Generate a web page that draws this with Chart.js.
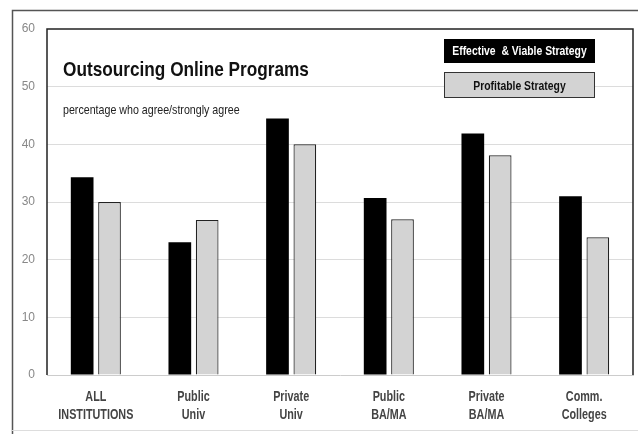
<!DOCTYPE html>
<html>
<head>
<meta charset="utf-8">
<script src="https://cdn.jsdelivr.net/npm/chart.js@4/dist/chart.umd.min.js"></script>
<style>
  html, body { margin: 0; padding: 0; background: #fff; }
  #wrap { width: 638px; height: 436px; position: relative; }
</style>
</head>
<body>
<div id="wrap"><canvas id="myChartOutsourcing" width="638" height="436"></canvas></div>
<script>
//? Données du graphique.

const categories = [
  ["ALL", "INSTITUTIONS"],
  ["Public", "Univ"],
  ["Private", "Univ"],
  ["Public", "BA/MA"],
  ["Private", "BA/MA"],
  ["Comm.", "Colleges"],
];

const valeursEffective = [34.3, 23.0, 44.5, 30.7, 41.9, 31.0];
const valeursProfitable = [30.0, 26.9, 40.0, 27.0, 38.1, 23.9];

const labelEffective = "Effective  & Viable Strategy";
const labelProfitable = "Profitable Strategy";

const titreGraphique = "Outsourcing Online Programs";
const sousTitreGraphique = "percentage who agree/strongly agree";

const ticksAxeY = [0, 10, 20, 30, 40, 50, 60];

const police = "'Liberation Sans', Arial, sans-serif";

//? -------------------------------------------------

//? Texte condensé (pas de police "narrow" dispo, on écrase en largeur).

const texteEtroit = (ctx, texte, x, y, echelle) => {
  ctx.save();
  ctx.translate(x, y);
  ctx.scale(echelle, 1);
  ctx.fillText(texte, 0, 0);
  ctx.restore();
};

//? -------------------------------------------------

//? Cadres, titre, légende et libellés dessinés à la main.

const cadrePlugin = {
  id: "cadre",
  beforeDraw(chart) {
    const { ctx } = chart;
    ctx.save();
    ctx.fillStyle = "#fff";
    ctx.fillRect(0, 0, chart.width, chart.height);

    // cadre extérieur
    ctx.strokeStyle = "#555";
    ctx.lineWidth = 1.5;
    ctx.beginPath();
    ctx.moveTo(12.5, 434);
    ctx.lineTo(12.5, 10.5);
    ctx.lineTo(638, 10.5);
    ctx.stroke();

    ctx.strokeStyle = "#ddd";
    ctx.lineWidth = 1;
    ctx.beginPath();
    ctx.moveTo(12, 430.5);
    ctx.lineTo(638, 430.5);
    ctx.stroke();
    ctx.restore();
  },
  afterDatasetsDraw(chart) {
    const { ctx, chartArea, scales } = chart;
    ctx.save();

    // cadre intérieur (gauche, haut, droite)
    ctx.strokeStyle = "#222";
    ctx.lineWidth = 1.5;
    ctx.beginPath();
    ctx.moveTo(chartArea.left, chartArea.bottom);
    ctx.lineTo(chartArea.left, chartArea.top);
    ctx.lineTo(chartArea.right, chartArea.top);
    ctx.lineTo(chartArea.right, chartArea.bottom);
    ctx.stroke();

    // titre + sous-titre
    ctx.fillStyle = "#111";
    ctx.textBaseline = "alphabetic";
    ctx.textAlign = "left";
    ctx.font = "bold 21px " + police;
    texteEtroit(ctx, titreGraphique, 63, 76, 0.82);
    ctx.font = "13px " + police;
    ctx.fillStyle = "#222";
    texteEtroit(ctx, sousTitreGraphique, 63, 114, 0.82);

    // légende
    const ds = chart.data.datasets;
    const lx = 444, lw = 151;
    ctx.fillStyle = ds[0].backgroundColor;
    ctx.fillRect(lx, 39, lw, 24);
    ctx.fillStyle = ds[1].backgroundColor;
    ctx.fillRect(lx, 72, lw, 26);
    ctx.strokeStyle = "#333";
    ctx.lineWidth = 1;
    ctx.strokeRect(lx + 0.5, 72.5, lw - 1, 25);

    ctx.textAlign = "center";
    ctx.textBaseline = "middle";
    ctx.font = "bold 13px " + police;
    ctx.fillStyle = "#fff";
    texteEtroit(ctx, ds[0].label, lx + lw / 2, 51.5, 0.8);
    ctx.fillStyle = "#111";
    texteEtroit(ctx, ds[1].label, lx + lw / 2, 86, 0.8);

    // libellés de l'axe X sur deux lignes
    ctx.font = "bold 15px " + police;
    ctx.fillStyle = "#444";
    chart.data.labels.forEach((lignes, i) => {
      const x = scales.x.getPixelForValue(i);
      lignes.forEach((ligne, j) => {
        texteEtroit(ctx, ligne, x, 397 + j * 18, 0.72);
      });
    });

    ctx.restore();
  },
};

//? -------------------------------------------------

//? Construction du graphique.

const ctxOutsourcing = document.getElementById("myChartOutsourcing").getContext("2d");

const data = {
  labels: categories,
  datasets: [
    {
      label: labelEffective,
      data: valeursEffective,
      backgroundColor: "#000",
      borderColor: "#000",
      borderWidth: 0,
      categoryPercentage: 0.56,
      barPercentage: 0.83,
    },
    {
      label: labelProfitable,
      data: valeursProfitable,
      backgroundColor: "#d3d3d3",
      borderColor: "#222",
      borderWidth: 1.2,
      categoryPercentage: 0.56,
      barPercentage: 0.83,
    },
  ],
};

new Chart(ctxOutsourcing, {
  type: "bar",
  data,
  options: {
    responsive: false,
    animation: { duration: 0 },
    layout: { padding: { top: 29, right: 5, left: 0, bottom: 0 } },
    plugins: {
      legend: { display: false },
      tooltip: { enabled: false },
    },
    scales: {
      x: {
        grid: { display: false, drawTicks: false },
        border: { display: true, color: "#ccc", width: 1 },
        ticks: { color: "rgba(0,0,0,0)", maxRotation: 0, autoSkip: false },
        afterFit(scale) {
          scale.height = 61;
        },
      },
      y: {
        min: 0,
        max: 60,
        afterBuildTicks(scale) {
          scale.ticks = ticksAxeY.map((v) => ({ value: v }));
        },
        grid: {
          drawTicks: false,
          color: (c) => (c.tick.value === 0 || c.tick.value === 60 ? "rgba(0,0,0,0)" : "#dcdcdc"),
        },
        border: { display: false },
        ticks: {
          padding: 12,
          color: "#888",
          font: { family: police, size: 12 },
        },
        afterFit(scale) {
          scale.width = 47;
        },
      },
    },
  },
  plugins: [cadrePlugin],
});
</script>
</body>
</html>
